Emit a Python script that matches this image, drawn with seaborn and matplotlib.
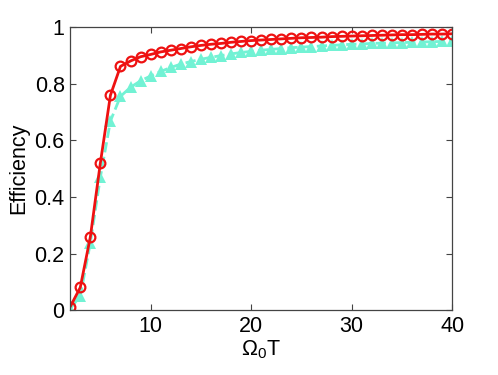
import numpy as np
import pandas as pd
import matplotlib
matplotlib.use("Agg")
import matplotlib.pyplot as plt
import seaborn as sns
from matplotlib.ticker import FuncFormatter

omega_t = [2, 3, 4, 5, 6, 7, 8, 9, 10, 11, 12, 13, 14, 15, 16, 17, 18, 19, 20, 21,
           22, 23, 24, 25, 26, 27, 28, 29, 30, 31, 32, 33, 34, 35, 36, 37, 38, 39, 40]

eff_red = [0.012, 0.08, 0.258, 0.52, 0.759, 0.861, 0.88, 0.895, 0.903, 0.912,
           0.918, 0.924, 0.93, 0.935, 0.939, 0.942, 0.946, 0.949, 0.952, 0.954,
           0.956, 0.958, 0.960, 0.962, 0.963, 0.964, 0.966, 0.967, 0.968, 0.969,
           0.970, 0.971, 0.972, 0.973, 0.973, 0.974, 0.975, 0.975, 0.976]

eff_cyan = [0.005, 0.05, 0.237, 0.47, 0.668, 0.755, 0.787, 0.81, 0.827, 0.843,
            0.857, 0.869, 0.878, 0.886, 0.893, 0.899, 0.905, 0.910, 0.914, 0.918,
            0.921, 0.924, 0.927, 0.929, 0.931, 0.933, 0.935, 0.937, 0.939, 0.940,
            0.942, 0.943, 0.944, 0.945, 0.946, 0.947, 0.948, 0.949, 0.950]

sns.set_style("ticks")
plt.rcParams["font.family"] = ["Liberation Sans", "DejaVu Sans"]
plt.rcParams["mathtext.fontset"] = "custom"
plt.rcParams["mathtext.rm"] = "Liberation Sans"
plt.rcParams["mathtext.it"] = "Liberation Sans"
plt.rcParams["text.color"] = "black"
plt.rcParams["axes.labelcolor"] = "black"
plt.rcParams["xtick.labelcolor"] = "black"
plt.rcParams["ytick.labelcolor"] = "black"

df = pd.DataFrame({"omega_t": omega_t, "red": eff_red, "cyan": eff_cyan})

fig = plt.figure(figsize=(4.98, 3.75), dpi=100)
ax = fig.add_axes([0.141, 0.173, 0.767, 0.755])

sns.lineplot(data=df, x="omega_t", y="cyan", ax=ax, color="#72F2D4",
             linestyle="--", linewidth=2, marker="^", markersize=8,
             markeredgewidth=0, markerfacecolor="#72F2D4")
sns.lineplot(data=df, x="omega_t", y="red", ax=ax, color="#EE1111",
             linewidth=2, marker="o", markersize=7, markerfacecolor="none",
             markeredgecolor="#EE1111", markeredgewidth=1.6)

ax.set_xlim(2, 40)
ax.set_ylim(0, 1)
ax.set_xticks([10, 20, 30, 40])
ax.set_yticks([0, 0.2, 0.4, 0.6, 0.8, 1])
ax.yaxis.set_major_formatter(FuncFormatter(lambda v, p: "%g" % v))
ax.tick_params(direction="in", top=True, right=True, labelsize=15.5,
               length=4, width=0.8, color="#444444", pad=4)
for s in ax.spines.values():
    s.set_color("#444444")
    s.set_linewidth(0.9)

ax.set_xlabel(r"$\Omega_{0}$T", fontsize=15.5, labelpad=1)
ax.set_ylabel("Efficiency", fontsize=15.5, labelpad=4)

fig.savefig("out.png", dpi=100)
